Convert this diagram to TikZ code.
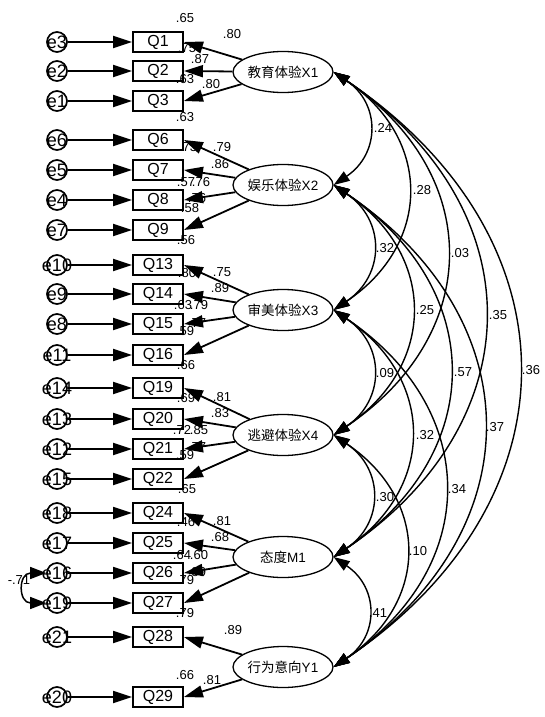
\documentclass[tikz,border=0pt]{standalone}
\usepackage{fontspec}
\setmainfont{Liberation Sans}
\newfontfamily\cjk{Noto Sans CJK SC}
\usetikzlibrary{arrows.meta,shapes.geometric}

\tikzset{
  item/.style={draw, line width=1.9pt, minimum width=50pt, minimum height=20pt, inner sep=0pt, font=\fontsize{16}{18}\selectfont},
  err/.style={draw, circle, line width=1.7pt, minimum size=20pt, inner sep=0pt, font=\fontsize{18}{18}\selectfont},
  latent/.style={draw, ellipse, line width=1.3pt, minimum width=100pt, minimum height=41pt, inner sep=0pt, font=\fontsize{13.5}{15}\selectfont},
  val/.style={inner sep=0pt, font=\fontsize{13}{13}\selectfont},
  arr/.style={line width=1.8pt, -{Triangle[length=19pt,width=12pt]}},
  cov/.style={line width=1.4pt, {Triangle[length=16pt,width=11pt]}-{Triangle[length=16pt,width=11pt]}, bend left=56, looseness=1.28},
}

\begin{document}
\begin{tikzpicture}[x=1pt, y=-1pt]
    \useasboundingbox (0,0) rectangle (544,717);
    % R-squared values
    \node[val] (r1) at (185,18) {.65};
    \node[val] (r2) at (187,48) {.75};
    \node[val] (r3) at (185,79) {.63};
    \node[val] (r6) at (185,117) {.63};
    \node[val] (r7) at (188,147) {.73};
    \node[val] (r8) at (186,182) {.57};
    \node[val] (r9) at (190,208) {.58};
    \node[val] (r13) at (186,240) {.56};
    \node[val] (r14) at (187,273) {.80};
    \node[val] (r15) at (183,305) {.63};
    \node[val] (r16) at (185,331) {.59};
    \node[val] (r19) at (186,365) {.66};
    \node[val] (r20) at (186,398) {.69};
    \node[val] (r21) at (182,430) {.72};
    \node[val] (r22) at (185,455) {.59};
    \node[val] (r24) at (187,489) {.65};
    \node[val] (r25) at (186,522) {.46};
    \node[val] (r26) at (182,555) {.64};
    \node[val] (r27) at (185,580) {.79};
    \node[val] (r28) at (185,613) {.79};
    \node[val] (r29) at (185,675) {.66};
    % Loadings
    \node[val] (l1) at (232,34) {.80};
    \node[val] (l2) at (200,59) {.87};
    \node[val] (l3) at (211,84) {.80};
    \node[val] (l6) at (222,147) {.79};
    \node[val] (l7) at (220,164) {.86};
    \node[val] (l8) at (201,182) {.76};
    \node[val] (l9) at (197,198) {.76};
    \node[val] (l13) at (222,272) {.75};
    \node[val] (l14) at (220,288) {.89};
    \node[val] (l15) at (199,305) {.79};
    \node[val] (l16) at (197,323) {.77};
    \node[val] (l19) at (222,397) {.81};
    \node[val] (l20) at (220,413) {.83};
    \node[val] (l21) at (199,430) {.85};
    \node[val] (l22) at (197,447) {.77};
    \node[val] (l24) at (222,521) {.81};
    \node[val] (l25) at (220,537) {.68};
    \node[val] (l26) at (199,555) {.60};
    \node[val] (l27) at (197,572) {.89};
    \node[val] (l28) at (233,630) {.89};
    \node[val] (l29) at (212,680) {.81};
    % Correlations
    \node[val] (c12) at (383,128) {.24};
    \node[val] (c13) at (422,190) {.28};
    \node[val] (c14) at (460,253) {.03};
    \node[val] (c15) at (498,315) {.35};
    \node[val] (c16) at (531,370) {.36};
    \node[val] (c23) at (385,248) {.32};
    \node[val] (c24) at (425,310) {.25};
    \node[val] (c25) at (463,372) {.57};
    \node[val] (c26) at (495,427) {.37};
    \node[val] (c34) at (385,373) {.09};
    \node[val] (c35) at (425,435) {.32};
    \node[val] (c36) at (457,489) {.34};
    \node[val] (c45) at (385,497) {.30};
    \node[val] (c46) at (418,551) {.10};
    \node[val] (c56) at (378,613) {.41};
    \node[val] (cee) at (19,580) {-.71};
    % Observed items
    \node[item] (Q1) at (158,42) {Q1};
    \node[item] (Q2) at (158,71) {Q2};
    \node[item] (Q3) at (158,101) {Q3};
    \node[item] (Q6) at (158,140) {Q6};
    \node[item] (Q7) at (158,170) {Q7};
    \node[item] (Q8) at (158,200) {Q8};
    \node[item] (Q9) at (158,230) {Q9};
    \node[item] (Q13) at (158,265) {Q13};
    \node[item] (Q14) at (158,294) {Q14};
    \node[item] (Q15) at (158,324) {Q15};
    \node[item] (Q16) at (158,355) {Q16};
    \node[item] (Q19) at (158,388) {Q19};
    \node[item] (Q20) at (158,419) {Q20};
    \node[item] (Q21) at (158,449) {Q21};
    \node[item] (Q22) at (158,479) {Q22};
    \node[item] (Q24) at (158,513) {Q24};
    \node[item] (Q25) at (158,543) {Q25};
    \node[item] (Q26) at (158,573) {Q26};
    \node[item] (Q27) at (158,603) {Q27};
    \node[item] (Q28) at (158,637) {Q28};
    \node[item] (Q29) at (158,697) {Q29};
    % Error terms
    \node[err] (e3) at (57,42) {\makebox[0pt]{e3}};
    \node[err] (e2) at (57,71) {\makebox[0pt]{e2}};
    \node[err] (e1) at (57,101) {\makebox[0pt]{e1}};
    \node[err] (e6) at (57,140) {\makebox[0pt]{e6}};
    \node[err] (e5) at (57,170) {\makebox[0pt]{e5}};
    \node[err] (e4) at (57,200) {\makebox[0pt]{e4}};
    \node[err] (e7) at (57,230) {\makebox[0pt]{e7}};
    \node[err] (e10) at (57,265) {\makebox[0pt]{e10}};
    \node[err] (e9) at (57,294) {\makebox[0pt]{e9}};
    \node[err] (e8) at (57,324) {\makebox[0pt]{e8}};
    \node[err] (e11) at (57,355) {\makebox[0pt]{e11}};
    \node[err] (e14) at (57,388) {\makebox[0pt]{e14}};
    \node[err] (e13) at (57,419) {\makebox[0pt]{e13}};
    \node[err] (e12) at (57,449) {\makebox[0pt]{e12}};
    \node[err] (e15) at (57,479) {\makebox[0pt]{e15}};
    \node[err] (e18) at (57,513) {\makebox[0pt]{e18}};
    \node[err] (e17) at (57,543) {\makebox[0pt]{e17}};
    \node[err] (e16) at (57,573) {\makebox[0pt]{e16}};
    \node[err] (e19) at (57,603) {\makebox[0pt]{e19}};
    \node[err] (e21) at (57,637) {\makebox[0pt]{e21}};
    \node[err] (e20) at (57,697) {\makebox[0pt]{e20}};
    % Latent factors
    \node[latent] (X1) at (283,72) {{\cjk 教育体验}X1};
    \node[latent] (X2) at (283,185) {{\cjk 娱乐体验}X2};
    \node[latent] (X3) at (283,310) {{\cjk 审美体验}X3};
    \node[latent] (X4) at (283,435) {{\cjk 逃避体验}X4};
    \node[latent] (M1) at (283,557) {{\cjk 态度}M1};
    \node[latent] (Y1) at (283,667) {{\cjk 行为意向}Y1};
    % Error paths
    \draw[arr] (e3) -- (Q1);
    \draw[arr] (e2) -- (Q2);
    \draw[arr] (e1) -- (Q3);
    \draw[arr] (e6) -- (Q6);
    \draw[arr] (e5) -- (Q7);
    \draw[arr] (e4) -- (Q8);
    \draw[arr] (e7) -- (Q9);
    \draw[arr] (e10) -- (Q13);
    \draw[arr] (e9) -- (Q14);
    \draw[arr] (e8) -- (Q15);
    \draw[arr] (e11) -- (Q16);
    \draw[arr] (e14) -- (Q19);
    \draw[arr] (e13) -- (Q20);
    \draw[arr] (e12) -- (Q21);
    \draw[arr] (e15) -- (Q22);
    \draw[arr] (e18) -- (Q24);
    \draw[arr] (e17) -- (Q25);
    \draw[arr] (e16) -- (Q26);
    \draw[arr] (e19) -- (Q27);
    \draw[arr] (e21) -- (Q28);
    \draw[arr] (e20) -- (Q29);
    % Loading paths
    \draw[arr] (X1) -- (Q1.east);
    \draw[arr] (X1) -- (Q2.east);
    \draw[arr] (X1) -- (Q3.east);
    \draw[arr] (X2) -- (Q6.east);
    \draw[arr] (X2) -- (Q7.east);
    \draw[arr] (X2) -- (Q8.east);
    \draw[arr] (X2) -- (Q9.east);
    \draw[arr] (X3) -- (Q13.east);
    \draw[arr] (X3) -- (Q14.east);
    \draw[arr] (X3) -- (Q15.east);
    \draw[arr] (X3) -- (Q16.east);
    \draw[arr] (X4) -- (Q19.east);
    \draw[arr] (X4) -- (Q20.east);
    \draw[arr] (X4) -- (Q21.east);
    \draw[arr] (X4) -- (Q22.east);
    \draw[arr] (M1) -- (Q24.east);
    \draw[arr] (M1) -- (Q25.east);
    \draw[arr] (M1) -- (Q26.east);
    \draw[arr] (M1) -- (Q27.east);
    \draw[arr] (Y1) -- (Q28.east);
    \draw[arr] (Y1) -- (Q29.east);
    % Covariances
    \draw[cov] (X1.east) to (X2.east);
    \draw[cov] (X1.east) to (X3.east);
    \draw[cov] (X1.east) to (X4.east);
    \draw[cov] (X1.east) to (M1.east);
    \draw[cov] (X1.east) to (Y1.east);
    \draw[cov] (X2.east) to (X3.east);
    \draw[cov] (X2.east) to (X4.east);
    \draw[cov] (X2.east) to (M1.east);
    \draw[cov] (X2.east) to (Y1.east);
    \draw[cov] (X3.east) to (X4.east);
    \draw[cov] (X3.east) to (M1.east);
    \draw[cov] (X3.east) to (Y1.east);
    \draw[cov] (X4.east) to (M1.east);
    \draw[cov] (X4.east) to (Y1.east);
    \draw[cov] (M1.east) to (Y1.east);
    \draw[line width=1.5pt, {Triangle[length=16pt,width=12pt]}-{Triangle[length=16pt,width=12pt]}] (e16.west) to[out=180, in=180, looseness=2.4] (e19.west);
\end{tikzpicture}
\end{document}
